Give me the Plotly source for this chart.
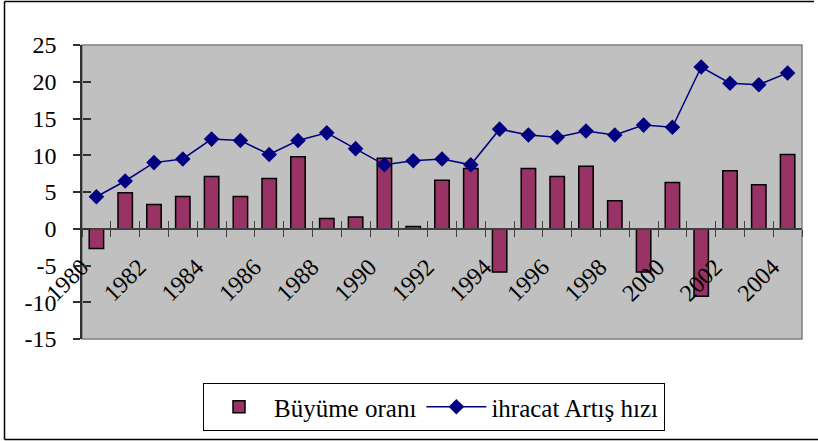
import plotly.graph_objects as go

years = list(range(1980, 2005))
buyume_orani = [-2.7, 4.9, 3.3, 4.4, 7.1, 4.4, 6.85, 9.8, 1.4, 1.6, 9.6, 0.3, 6.6,
                8.2, -5.9, 8.2, 7.1, 8.5, 3.8, -5.9, 6.3, -9.2, 7.9, 6.0, 10.1]
ihracat_artis = [4.35, 6.5, 9.0, 9.5, 12.2, 12.0, 10.1, 12.0, 13.05, 10.9, 8.7, 9.25, 9.5,
                 8.7, 13.55, 12.75, 12.45, 13.3, 12.75, 14.1, 13.8, 22.0, 19.8, 19.6, 21.2]
tick_years = years[::2]
tick_year_labels = [str(y) for y in tick_years]
y_ticks = [-15, -10, -5, 0, 5, 10, 15, 20, 25]
y_tick_labels = ["-15", "-10", "-5", "0", "5", "10", "15", "20", "25"]

FONT = "Liberation Serif"
W, H = 818, 441
L, R, T, B = 82, 16, 45, 102
PW, PH = W - L - R, H - T - B

def px_x(x):
    return (x - L) / PW

def px_y(y):
    return (H - B - y) / PH

y_range = [-15, 25]
zero_pos = (0 - y_range[0]) / (y_range[1] - y_range[0])
x_range = [years[0] - 0.5, years[-1] + 0.5]

fig = go.Figure()
fig.add_trace(go.Bar(
    x=years, y=buyume_orani, name="Büyüme oranı",
    marker=dict(color="#993366", line=dict(color="#000000", width=1.5)),
    xaxis="x", yaxis="y",
))
fig.add_trace(go.Scatter(
    x=years, y=ihracat_artis, name="ihracat Artış hızı", mode="lines+markers",
    line=dict(color="#000080", width=1.5),
    marker=dict(symbol="diamond", size=12, color="#000080"),
    xaxis="x2", yaxis="y2",
))

fig.update_layout(
    template="none",
    width=W, height=H,
    margin=dict(l=L, r=R, t=T, b=B, pad=0, autoexpand=False),
    paper_bgcolor="white", plot_bgcolor="#C0C0C0",
    font=dict(family=FONT, size=24, color="black"),
    bargap=0.5,
    showlegend=True,
    legend=dict(
        orientation="h", x=px_x(203), y=px_y(383), xanchor="left", yanchor="top",
        bgcolor="white", bordercolor="black", borderwidth=1,
        font=dict(family=FONT, size=25, color="black"),
        traceorder="normal", itemwidth=60, tracegroupgap=0,
    ),
    xaxis=dict(
        range=x_range, anchor="free", position=zero_pos, automargin=False,
        tickmode="array", tickvals=tick_years, ticktext=tick_year_labels, ticks="",
        tickangle=-45, ticklabelstandoff=14, ticklabelshift=-15,
        minor=dict(tickmode="linear", tick0=years[0] - 0.5, dtick=1, ticks="outside",
                   ticklen=7, tickcolor="#404040", tickwidth=1),
        showline=True, linecolor="#404040", linewidth=1.5,
        showgrid=False, zeroline=False,
        tickfont=dict(family=FONT, size=24, color="black"),
    ),
    xaxis2=dict(
        range=x_range, overlaying="x", anchor="free", position=zero_pos, automargin=False,
        tickmode="linear", tick0=years[0] - 0.5, dtick=1, ticks="inside", ticklen=8,
        tickcolor="#404040", tickwidth=1, showticklabels=False,
        showline=False, showgrid=False, zeroline=False,
    ),
    yaxis=dict(
        range=y_range, tickvals=y_ticks, ticktext=y_tick_labels, ticks="outside", ticklen=7,
        tickcolor="#303030", tickwidth=1.5, automargin=False,
        showline=True, linecolor="#303030", linewidth=1.5,
        showgrid=False, zeroline=False, ticklabelstandoff=12,
        tickfont=dict(family=FONT, size=24, color="black"),
    ),
    yaxis2=dict(
        range=y_range, overlaying="y", anchor="free", position=0, side="left",
        tickvals=y_ticks, ticks="inside", ticklen=8, tickcolor="#303030", tickwidth=1.5,
        showticklabels=False, showline=False, showgrid=False, zeroline=False,
        automargin=False,
    ),
    shapes=[
        dict(type="rect", xref="paper", yref="paper", x0=0, x1=1, y0=0, y1=1,
             line=dict(color="#808080", width=1.5), layer="below"),
        dict(type="line", xref="paper", yref="paper", x0=px_x(4.5), x1=px_x(4.5),
             y0=px_y(1.5), y1=px_y(439.5), line=dict(color="black", width=1.5)),
        dict(type="line", xref="paper", yref="paper", x0=px_x(4.5), x1=px_x(814),
             y0=px_y(1.5), y1=px_y(1.5), line=dict(color="black", width=1.5)),
        dict(type="line", xref="paper", yref="paper", x0=px_x(4.5), x1=px_x(818),
             y0=px_y(439.5), y1=px_y(439.5), line=dict(color="black", width=1.5)),
    ],
)

fig.write_html(
    "out.html",
    config={"displayModeBar": False},
    post_script="document.body.style.margin='0px';document.body.style.overflow='hidden';",
)
